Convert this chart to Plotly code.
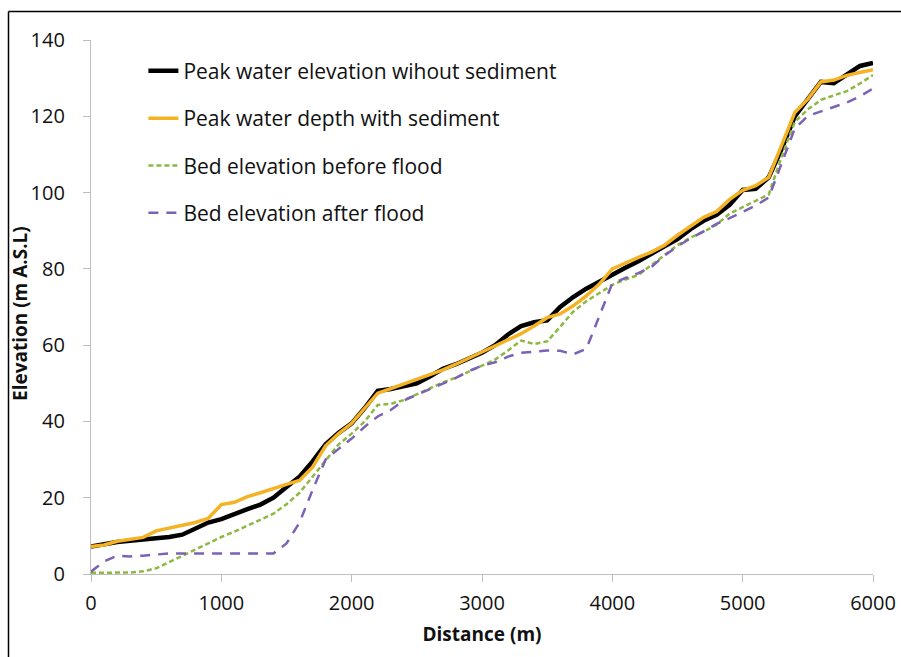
import plotly.graph_objects as go

distance = list(range(0, 6001, 100))

peak_no_sed = [7.2, 7.8, 8.4, 8.7, 9.0, 9.4, 9.7, 10.3, 11.8, 13.5,
               14.4, 15.8, 17.0, 18.2, 20.0, 22.8, 25.5, 29.5, 34.0, 37.0,
               39.5, 43.5, 48.0, 48.5, 49.2, 50.0, 51.8, 53.8, 55.0, 56.5,
               58.0, 60.0, 62.8, 65.0, 66.0, 66.5, 70.0, 72.6, 74.8, 76.6,
               78.6, 80.3, 82.0, 83.8, 85.9, 87.8, 90.4, 92.6, 94.2, 96.8,
               100.7, 101.0, 104.0, 111.5, 120.0, 124.5, 129.0, 128.7, 130.8, 133.2,
               134.0]

peak_with_sed = [7.2, 7.6, 8.6, 9.0, 9.6, 11.3, 12.1, 12.9, 13.5, 14.6,
                 18.2, 18.8, 20.3, 21.3, 22.5, 23.5, 24.5, 28.0, 33.6, 36.8,
                 39.5, 43.3, 47.4, 48.6, 49.8, 50.9, 52.3, 53.5, 55.0, 56.6,
                 58.1, 59.6, 61.2, 63.0, 65.0, 67.2, 68.2, 70.3, 72.9, 76.0,
                 80.0, 81.6, 83.0, 84.4, 86.2, 88.8, 91.2, 93.5, 95.0, 98.2,
                 100.6, 101.8, 104.0, 112.5, 121.0, 124.5, 129.0, 129.5, 130.7, 131.5,
                 132.2]

bed_before = [0.3, 0.3, 0.3, 0.4, 0.7, 1.5, 3.1, 4.8, 6.4, 8.2,
              9.7, 11.1, 12.6, 14.2, 15.8, 18.3, 21.3, 25.5, 29.7, 34.0,
              36.8, 40.0, 44.3, 44.6, 45.6, 47.2, 48.7, 50.2, 51.5, 53.0,
              54.5, 56.2, 58.6, 61.2, 60.3, 61.0, 64.8, 68.8, 71.5, 73.6,
              75.8, 77.2, 78.4, 81.0, 83.6, 86.2, 88.2, 89.7, 91.6, 94.5,
              96.2, 97.8, 99.5, 109.5, 118.5, 121.8, 124.3, 125.5, 126.6, 128.6,
              130.8]

bed_after = [0.6, 3.3, 4.8, 4.6, 4.8, 5.2, 5.4, 5.4, 5.4, 5.4,
             5.4, 5.4, 5.4, 5.4, 5.4, 8.0, 13.5, 22.0, 30.0, 32.8,
             35.5, 38.6, 41.3, 43.0, 45.5, 47.0, 48.4, 49.8, 51.4, 53.2,
             54.6, 55.5, 57.0, 58.0, 58.3, 58.6, 58.5, 57.6, 59.0, 67.5,
             76.2, 77.6, 78.9, 80.5, 83.5, 85.9, 88.0, 89.8, 91.8, 93.3,
             95.0, 96.6, 98.7, 108.0, 116.8, 120.1, 121.2, 122.4, 123.6, 125.2,
             127.3]

series_names = ["Peak water elevation wihout sediment",
                "Peak water depth with sediment",
                "Bed elevation before flood",
                "Bed elevation after flood"]

x_ticks = [0, 1000, 2000, 3000, 4000, 5000, 6000]
y_ticks = [0, 20, 40, 60, 80, 100, 120, 140]

FONT = "Open Sans"

fig = go.Figure()
fig.add_trace(go.Scatter(x=distance, y=peak_no_sed, mode="lines", name=series_names[0],
                         legendgroup="a",
                         line=dict(color="#000000", width=4.5)))
fig.add_trace(go.Scatter(x=distance, y=peak_with_sed, mode="lines", name=series_names[1],
                         legendgroup="b",
                         line=dict(color="#F4B324", width=3.5)))
fig.add_trace(go.Scatter(x=distance, y=bed_before, mode="lines", name=series_names[2],
                         legendgroup="c",
                         line=dict(color="#8DB842", width=2.5, dash="5px,3px")))
fig.add_trace(go.Scatter(x=distance, y=bed_after, mode="lines", name=series_names[3],
                         legendgroup="d",
                         line=dict(color="#7B62B4", width=2.5, dash="10px,8px")))

axis_common = dict(showgrid=False, zeroline=False, showline=True, linecolor="#BFBFBF",
                   linewidth=1.2, ticks="outside", ticklen=7, tickcolor="#BFBFBF",
                   tickfont=dict(family=FONT, size=20, color="#111111"))

fig.update_xaxes(range=[0, 6000], tickvals=x_ticks, ticktext=[str(v) for v in x_ticks],
                 ticklabelstandoff=4,
                 title=dict(text="<b>Distance (m)</b>", font=dict(family=FONT, size=19, color="#111111"),
                            standoff=12),
                 **axis_common)
fig.update_yaxes(range=[0, 140], tickvals=y_ticks, ticktext=[str(v) for v in y_ticks],
                 ticklabelstandoff=14, **axis_common)

PLOT_W, PLOT_H = 782, 534
fig.update_layout(
    width=901, height=657,
    margin=dict(l=91, r=28, t=40, b=83, autoexpand=False),
    paper_bgcolor="white", plot_bgcolor="white",
    showlegend=True,
    legend=dict(x=0.067, y=0.98, xanchor="left", yanchor="top",
                font=dict(family=FONT, size=21, color="#111111"),
                bgcolor="rgba(0,0,0,0)", tracegroupgap=17, itemwidth=30),
    annotations=[dict(text="<b>Elevation (m A.S.L)</b>", textangle=-90, showarrow=False,
                      xref="paper", yref="paper", x=(20 - 91) / PLOT_W, y=(574 - 314) / PLOT_H,
                      xanchor="center", yanchor="middle",
                      font=dict(family=FONT, size=19, color="#111111"))],
    shapes=[
        dict(type="line", xref="paper", yref="paper",
             x0=(8.5 - 91) / PLOT_W, x1=1.2, y0=(574 - 11.5) / PLOT_H, y1=(574 - 11.5) / PLOT_H,
             line=dict(color="black", width=1.5)),
        dict(type="line", xref="paper", yref="paper",
             x0=(8.5 - 91) / PLOT_W, x1=(8.5 - 91) / PLOT_W, y0=-0.3, y1=(574 - 11.5) / PLOT_H,
             line=dict(color="black", width=1.5)),
    ],
)

fig.write_html("out.html",
               config={"displayModeBar": False, "responsive": False},
               post_script="document.body.style.margin='0';document.body.style.overflow='hidden';")
